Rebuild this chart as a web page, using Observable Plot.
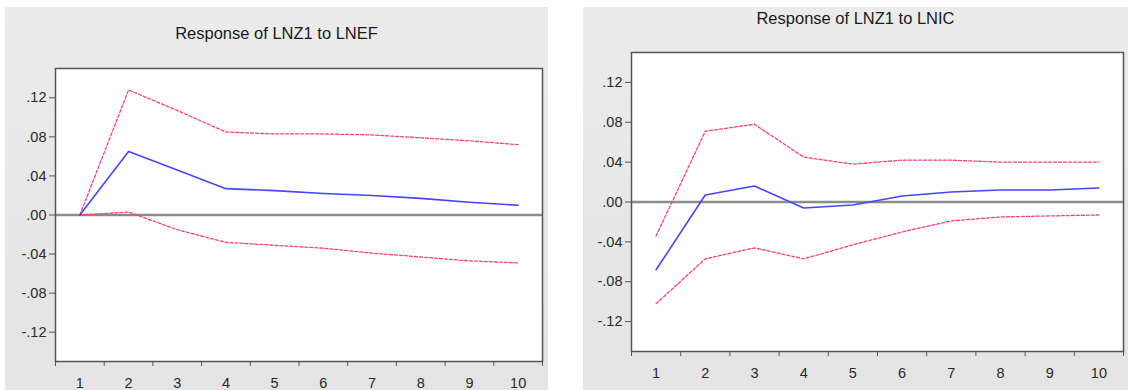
<!DOCTYPE html>
<html>
<head>
<meta charset="utf-8">
<script src="https://cdn.jsdelivr.net/npm/d3@7"></script>
<script src="https://cdn.jsdelivr.net/npm/@observablehq/plot@0.6"></script>
<style>
  html, body { margin: 0; padding: 0; background: #ffffff; }
  body { width: 1128px; height: 390px; position: relative; overflow: hidden; font-family: "Liberation Sans", Arial, sans-serif; }
  .panel { position: absolute; background: linear-gradient(180deg, #ebebeb 0%, #e4e4e4 100%); }
  .title { position: absolute; left: 0; width: 100%; text-align: center; font-size: 16.5px; color: #1a1a1a; line-height: 1; }
  .panel svg { position: absolute; left: 0; top: 0; }
</style>
</head>
<body>
<div id="p1" class="panel" style="left:5px; top:7px; width:543px; height:383px;">
  <div class="title" style="top:18px;">Response of LNZ1 to LNEF</div>
</div>
<div id="p2" class="panel" style="left:583px; top:7px; width:545px; height:383px;">
  <div class="title" style="top:3px;">Response of LNZ1 to LNIC</div>
</div>
<script>
// Periods (categories)
const steps = [1, 2, 3, 4, 5, 6, 7, 8, 9, 10];

// Response of LNZ1 to LNEF
const lnefResponse = [0.000, 0.065, 0.046, 0.027, 0.025, 0.022, 0.020, 0.017, 0.013, 0.010];
const lnefUpper    = [0.000, 0.128, 0.107, 0.085, 0.083, 0.083, 0.082, 0.079, 0.076, 0.072];
const lnefLower    = [0.000, 0.003, -0.015, -0.028, -0.031, -0.034, -0.039, -0.043, -0.047, -0.049];

// Response of LNZ1 to LNIC
const lnicResponse = [-0.068, 0.007, 0.016, -0.006, -0.003, 0.006, 0.010, 0.012, 0.012, 0.014];
const lnicUpper    = [-0.034, 0.071, 0.078, 0.045, 0.038, 0.042, 0.042, 0.040, 0.040, 0.040];
const lnicLower    = [-0.102, -0.057, -0.046, -0.057, -0.043, -0.030, -0.019, -0.015, -0.014, -0.013];

// Tick values and labels
const yTicks = [-0.12, -0.08, -0.04, 0, 0.04, 0.08, 0.12];
const yTickLabels = ["-.12", "-.08", "-.04", ".00", ".04", ".08", ".12"];
const xTickLabels = ["1", "2", "3", "4", "5", "6", "7", "8", "9", "10"];

const bandEdges = [steps[0] - 0.5, ...steps.map(s => s + 0.5)];

function panel(resp, upper, lower, cfg) {
  const rows = steps.map((s, i) => ({step: s, resp: resp[i], upper: upper[i], lower: lower[i]}));
  return Plot.plot({
    width: cfg.width,
    height: cfg.height,
    marginLeft: cfg.ml,
    marginRight: cfg.mr,
    marginTop: cfg.mt,
    marginBottom: cfg.mb,
    style: {background: "transparent", fontFamily: "'Liberation Sans', Arial, sans-serif", fontSize: "14px", color: "#2a2a2a"},
    x: {domain: [steps[0] - 0.5, steps[steps.length - 1] + 0.5]},
    y: {domain: [-0.15, 0.15]},
    marks: [
      Plot.frame({fill: "#ffffff", stroke: "none"}),
      Plot.ruleY([0], {stroke: "#8c8c8c", strokeWidth: 2.5}),
      Plot.line(rows, {x: "step", y: "upper", stroke: "#ff4070", strokeWidth: 1.3, strokeDasharray: "3,2"}),
      Plot.line(rows, {x: "step", y: "lower", stroke: "#ff4070", strokeWidth: 1.3, strokeDasharray: "3,2"}),
      Plot.line(rows, {x: "step", y: "resp", stroke: "#4545ff", strokeWidth: 1.6}),
      Plot.frame({stroke: "#555555", strokeWidth: 1.5}),
      Plot.axisY(yTicks, {tickSize: 6, tickPadding: 3, fontSize: 14.5, tickFormat: (d) => yTickLabels[yTicks.indexOf(d)], stroke: "#555555", fill: "#2a2a2a", label: null}),
      Plot.axisX(steps, {tickSize: 0, tickPadding: 16, fontSize: 14.5, tickFormat: (d) => xTickLabels[steps.indexOf(d)], fill: "#2a2a2a", label: null}),
      Plot.axisX(bandEdges, {tickSize: 5, tickFormat: () => "", stroke: "#555555", label: null})
    ]
  });
}

document.getElementById("p1").appendChild(
  panel(lnefResponse, lnefUpper, lnefLower, {width: 543, height: 383, ml: 50, mr: 6, mt: 61, mb: 29})
);
document.getElementById("p2").appendChild(
  panel(lnicResponse, lnicUpper, lnicLower, {width: 545, height: 383, ml: 48, mr: 5, mt: 45, mb: 39})
);
</script>
</body>
</html>
